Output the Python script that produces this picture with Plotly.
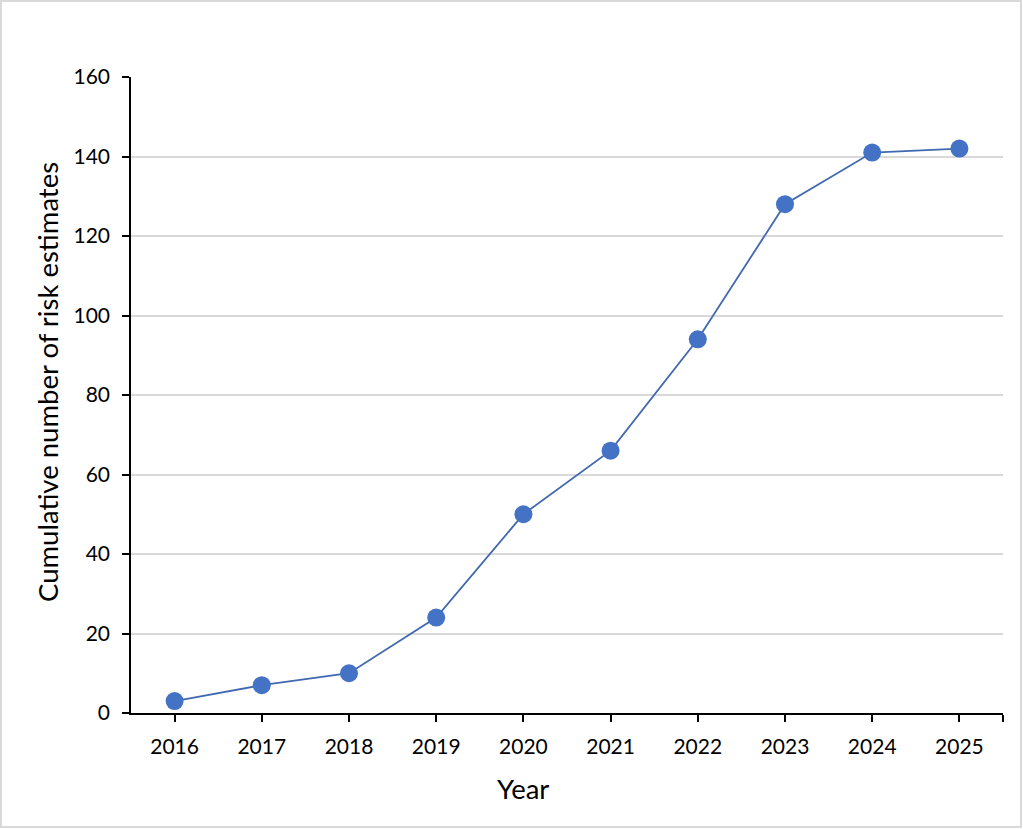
import plotly.graph_objects as go

years = [2016, 2017, 2018, 2019, 2020, 2021, 2022, 2023, 2024, 2025]
cumulative = [3, 7, 10, 24, 50, 66, 94, 128, 141, 142]
y_ticks = [0, 20, 40, 60, 80, 100, 120, 140, 160]

W, H = 1023, 829
ML, MR, MT, MB = 131, 20, 77, 116
PW, PH = W - ML - MR, H - MT - MB

FONT = "Lato"

fig = go.Figure()
fig.add_trace(go.Scatter(
    x=years, y=cumulative, mode="lines+markers",
    line=dict(color="#4169B0", width=1.8),
    marker=dict(color="#4472C4", size=18, line=dict(width=0)),
    showlegend=False,
))

fig.update_layout(
    width=W, height=H,
    margin=dict(l=ML, r=MR, t=MT, b=MB, pad=0),
    paper_bgcolor="white", plot_bgcolor="white",
    font=dict(family=FONT, size=21, color="#000000"),
    xaxis=dict(
        range=[2015.5, 2025.5],
        tickvals=years + [2025.5],
        ticktext=[str(y) for y in years] + [""],
        ticks="outside", ticklen=7, tickwidth=1.5, tickcolor="black",
        showline=True, linecolor="black", linewidth=1.5,
        showgrid=False, zeroline=False,
        ticklabelstandoff=7,
        tickfont=dict(size=21),
    ),
    yaxis=dict(
        range=[0, 160],
        tickvals=y_ticks,
        ticks="outside", ticklen=7, tickwidth=1.5, tickcolor="black",
        showline=True, linecolor="black", linewidth=1.5,
        showgrid=True, gridcolor="#D9D9D9", gridwidth=1.5,
        zeroline=False,
        ticklabelstandoff=8,
        tickfont=dict(size=21),
    ),
    annotations=[
        dict(text="Year", xref="paper", yref="paper",
             x=(523 - ML) / PW, y=(MT + PH - 788) / PH,
             xanchor="center", yanchor="middle", showarrow=False,
             font=dict(size=27.5)),
        dict(text="Cumulative number of risk estimates", xref="paper", yref="paper",
             x=(48 - ML) / PW, y=(MT + PH - 382) / PH, textangle=-90,
             xanchor="center", yanchor="middle", showarrow=False,
             font=dict(size=27.5)),
    ],
    shapes=[dict(
        type="rect", xref="paper", yref="paper",
        x0=(1 - ML) / PW, x1=(W - 2 - ML) / PW,
        y0=(MT + PH - (H - 2)) / PH, y1=(MT + PH - 1) / PH,
        line=dict(color="#D9D9D9", width=2), fillcolor="rgba(0,0,0,0)",
        layer="below",
    )],
)

fig.write_html("out.html", config={"displayModeBar": False},
               post_script="document.body.style.margin='0';")
